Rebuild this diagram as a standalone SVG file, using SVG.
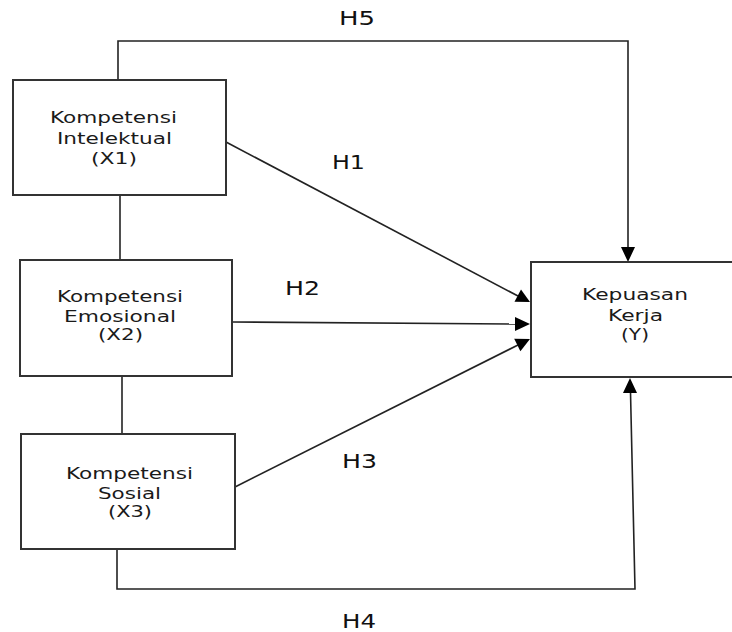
<svg xmlns="http://www.w3.org/2000/svg" width="732" height="632" viewBox="0 0 732 632">
<style>
.box{fill:#fff;stroke:#333;stroke-width:2}
.ln{fill:none;stroke:#222;stroke-width:1.6}
.t{font-family:"DejaVu Sans",Verdana,sans-serif;font-size:16px;fill:#1a1a1a;text-anchor:middle}
.h{font-family:"DejaVu Sans",Verdana,sans-serif;font-size:20px;fill:#111}
</style>
<rect width="732" height="632" fill="#fff"/>
<g id="connectors">
<path class="ln" d="M118,80 V41 H628 V248"/>
<path d="M628,262 L621,247 L635,247 z" fill="#000"/>
<path class="ln" d="M120,195 V260"/>
<path class="ln" d="M122,376 V434"/>
<path class="ln" d="M117,549 V589 H635 L630.5,392"/>
<path d="M630,378 L623,393 L637,393 z" fill="#000"/>
<path class="ln" d="M226,142 L518,296"/>
<path d="M530,302 L514.5,301.8 L521.0,289.4 z" fill="#000"/>
<path class="ln" d="M232,322 L516,324"/>
<path d="M530,324 L515,317 L515,331 z" fill="#000"/>
<path class="ln" d="M235,487 L518,345"/>
<path d="M530,339 L520.4,351.3 L514.2,338.7 z" fill="#000"/>
<text class="h" x="339" y="25" textLength="36" lengthAdjust="spacingAndGlyphs">H5</text>
<text class="h" x="332" y="169" textLength="33" lengthAdjust="spacingAndGlyphs">H1</text>
<text class="h" x="285" y="295" textLength="35" lengthAdjust="spacingAndGlyphs">H2</text>
<text class="h" x="342" y="468" textLength="35" lengthAdjust="spacingAndGlyphs">H3</text>
<text class="h" x="342" y="628" textLength="34" lengthAdjust="spacingAndGlyphs">H4</text>
</g>
<g id="x1">
<rect class="box" x="13" y="80" width="213" height="115"/>
<text class="t" x="113.5" y="123" textLength="127" lengthAdjust="spacingAndGlyphs">Kompetensi</text>
<text class="t" x="114.5" y="144" textLength="115" lengthAdjust="spacingAndGlyphs">Intelektual</text>
<text class="t" x="114" y="164" textLength="46" lengthAdjust="spacingAndGlyphs">(X1)</text>
</g>
<g id="x2">
<rect class="box" x="20" y="260" width="212" height="116"/>
<text class="t" x="120" y="302" textLength="126" lengthAdjust="spacingAndGlyphs">Kompetensi</text>
<text class="t" x="120" y="322" textLength="112" lengthAdjust="spacingAndGlyphs">Emosional</text>
<text class="t" x="120.5" y="340" textLength="45" lengthAdjust="spacingAndGlyphs">(X2)</text>
</g>
<g id="x3">
<rect class="box" x="21" y="434" width="214" height="115"/>
<text class="t" x="129.5" y="479" textLength="127" lengthAdjust="spacingAndGlyphs">Kompetensi</text>
<text class="t" x="129.5" y="499" textLength="63" lengthAdjust="spacingAndGlyphs">Sosial</text>
<text class="t" x="130" y="517" textLength="44" lengthAdjust="spacingAndGlyphs">(X3)</text>
</g>
<g id="y">
<rect class="box" x="531" y="262" width="210" height="115"/>
<text class="t" x="635" y="300" textLength="106" lengthAdjust="spacingAndGlyphs">Kepuasan</text>
<text class="t" x="635.5" y="321" textLength="55" lengthAdjust="spacingAndGlyphs">Kerja</text>
<text class="t" x="635" y="340" textLength="28" lengthAdjust="spacingAndGlyphs">(Y)</text>
</g>
</svg>
